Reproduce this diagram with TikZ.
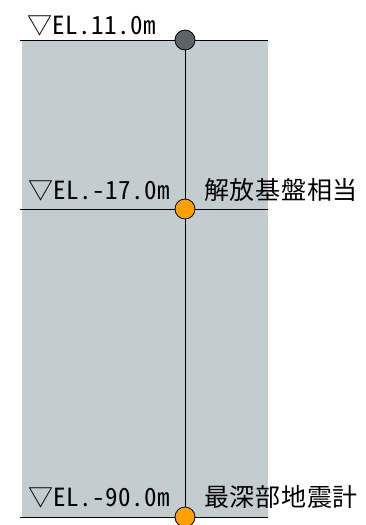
\documentclass[tikz,border=0pt]{standalone}
\usepackage{fontspec}
\setmainfont{Noto Sans CJK JP}
\newfontfamily\elfont[RawFeature=+hwid, LetterSpace=2]{Noto Sans CJK JP}
\newfontfamily\jpfont[LetterSpace=3]{Noto Sans CJK JP}
\usepackage{xcolor}
\definecolor{soilgray}{RGB}{195,205,207}
\definecolor{surfgray}{RGB}{90,100,105}
\definecolor{sensorora}{RGB}{255,160,0}

\begin{document}
\begin{tikzpicture}[
      x=1pt, y=-1pt,
      level/.style={draw=black, line width=0.9pt},
      rod/.style={draw=black, line width=0.9pt},
      sensor/.style={draw=black, circle, minimum size=20pt, inner sep=0pt,
                     line width=0.8pt},
      elev/.style={font=\elfont\fontsize{25}{25}\selectfont, anchor=base west,
                   inner sep=0pt},
      note/.style={font=\jpfont\fontsize{25}{25}\selectfont, anchor=base west,
                   inner sep=0pt},
    ]
    \useasboundingbox (0,0) rectangle (365,525);

    % ---- ground ----
    \fill[soilgray] (22,40) rectangle (268,517);

    % level lines
    \coordinate (l11) at (20,40);  \coordinate (r11) at (268,40);
    \coordinate (l17) at (20,209); \coordinate (r17) at (268,209);
    \coordinate (l90) at (20,517); \coordinate (r90) at (268,517);
    \draw[level] (l11) -- (r11);
    \draw[level] (l17) -- (r17);
    \draw[level] (l90) -- (r90);

    % ---- sensors ----
    \node[sensor, fill=surfgray] (s11) at (185,40) {};
    \node[sensor, fill=sensorora] (s17) at (185,209) {};
    \node[sensor, fill=sensorora] (s90) at (185,517) {};
    \draw[rod] (s11) -- (s17);
    \draw[rod] (s17) -- (s90);

    % elevation labels
    \node[elev] (e11) at (27,34) {▽EL.11.0m};
    \node[elev] (e17) at (28,199) {▽EL.-17.0m};
    \node[elev] (e90) at (28,506) {▽EL.-90.0m};

    % notes
    \node[note] (n17) at (204,199) {解放基盤相当};
    \node[note] (n90) at (204,506) {最深部地震計};
  \end{tikzpicture}
\end{document}
